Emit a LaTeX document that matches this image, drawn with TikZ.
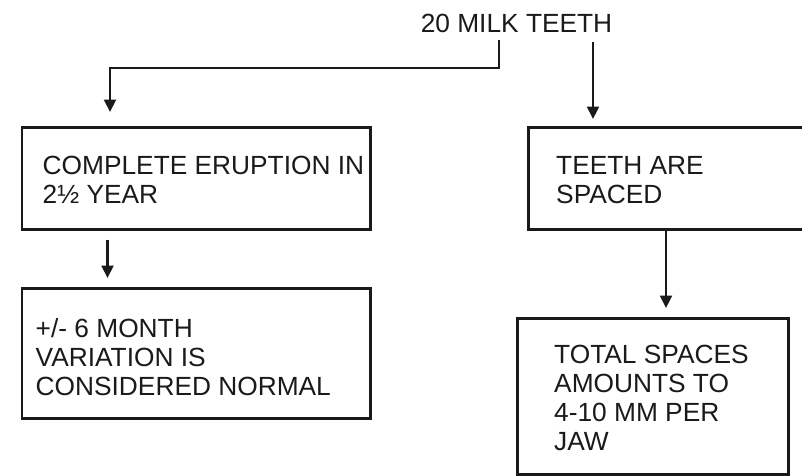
\documentclass[tikz,border=0pt]{standalone}
\usepackage{fontspec}
\setmainfont{Liberation Sans}
\usetikzlibrary{arrows.meta,calc}
\definecolor{ink}{HTML}{1A1A1A}
\tikzset{
  box/.style={draw=ink, line width=2.5pt, rectangle, inner sep=0pt, anchor=north west},
  txt/.style={text=ink, inner sep=0pt, align=left, anchor=west,
              font=\fontsize{26.3pt}{29pt}\selectfont},
  arr/.style={draw=ink, line width=2.1pt, -{Triangle[width=12pt,length=12.5pt]}},
}
\begin{document}
\begin{tikzpicture}[x=1pt,y=-1pt]
  \useasboundingbox (0,0) rectangle (802,475);
  \fill[white] (0,0) rectangle (802,475);

  % heading
  \node[text=ink, inner sep=0pt, font=\fontsize{26.3pt}{29pt}\selectfont] (t) at (516.5,23.5) {20 MILK TEETH};

  % boxes
  \node[box, minimum width=348.5pt, minimum height=102pt] (b1) at (20.5,126) {};
  \node[box, minimum width=348.5pt, minimum height=130pt] (b2) at (20.5,287) {};
  \node[box, minimum width=278pt, minimum height=102pt] (b3) at (527,126) {};
  \node[box, minimum width=271pt, minimum height=156pt] (b4) at (516,317) {};

  % box texts
  \node[txt] (b1t) at ([xshift=22pt,yshift=-2pt]b1.west) {COMPLETE ERUPTION IN\\2½ YEAR};
  \node[txt] (b2t) at ([xshift=15pt,yshift=-3.5pt]b2.west) {+/- 6 MONTH\\VARIATION IS\\CONSIDERED NORMAL};
  \node[txt] (b3t) at ([xshift=29pt,yshift=-1.5pt]b3.west) {TEETH ARE\\SPACED};
  \node[txt] (b4t) at ([xshift=38pt,yshift=-1.5pt]b4.west) {TOTAL SPACES\\AMOUNTS TO\\4-10 MM PER\\JAW};

  % connector end points
  \coordinate (split) at (499,68);
  \coordinate (tip1) at ([xshift=89.5pt,yshift=14pt]b1.north west);
  \coordinate (tip3) at ([xshift=66pt,yshift=7pt]b3.north west);
  \coordinate (tip2) at ([xshift=87pt,yshift=9pt]b2.north west);
  \coordinate (tip4) at ([xshift=150pt,yshift=9pt]b4.north west);

  % connectors
  \draw[arr] (t.south -| split) ++(0,7) -- (split) -| (tip1);
  \draw[arr] (t.south -| tip3) ++(0,9) -- (tip3);
  \draw[arr] (b1.south -| tip2) ++(0,9) -- (tip2);
  \draw[arr] (b3.south -| tip4) -- (tip4);
\end{tikzpicture}
\end{document}
